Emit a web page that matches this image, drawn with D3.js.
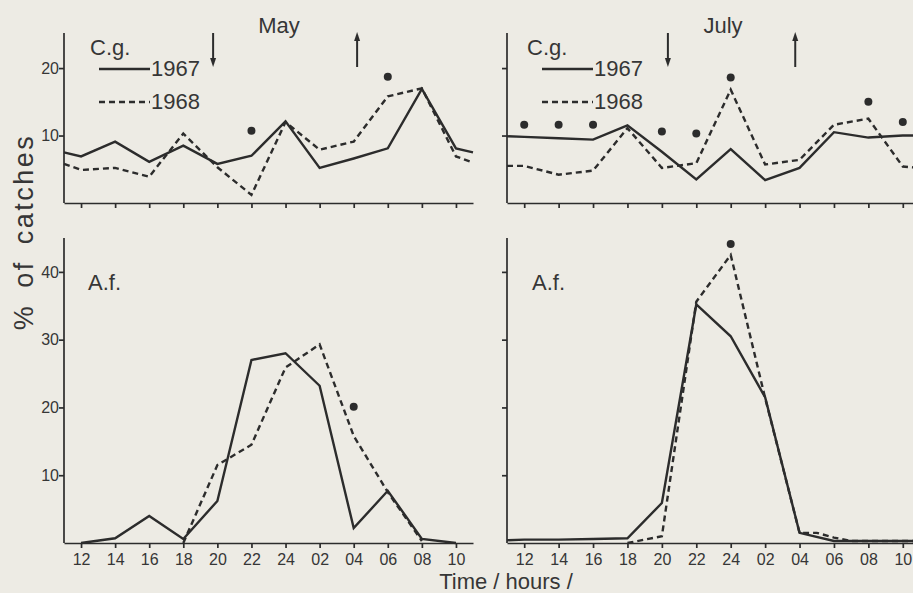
<!DOCTYPE html>
<html><head><meta charset="utf-8">
<script src="https://cdn.jsdelivr.net/npm/d3@7"></script>
<style>body{margin:0;background:#edebe4;} svg{display:block;}</style>
</head><body>
<svg id="chart" width="913" height="593"></svg>
<script>
// ---------- DATA ----------
const tickHours = [12,14,16,18,20,22,24,26,28,30,32,34];
const tickLabels = ["12","14","16","18","20","22","24","02","04","06","08","10"];
const topYTicks = [10,20];
const bottomYTicks = [10,20,30,40];

const cgHours = [11,12,14,16,18,20,22,24,26,28,30,32,34,35];
const mayCg1967 = [7.5,6.9,9.1,6.1,8.5,5.8,7.0,12.1,5.2,6.6,8.1,16.9,8.1,7.5];
const mayCg1968 = [5.8,4.9,5.2,3.9,10.3,5.3,1.2,12.0,7.9,9.1,15.8,17.0,6.9,6.0];
const mayCgDotHours = [22,30];
const mayCgDots = [10.7,18.7];

const julyCg1967 = [9.9,9.8,9.6,9.4,11.5,7.6,3.5,8.0,3.4,5.2,10.5,9.7,10.0,10.0];
const julyCg1968 = [5.5,5.5,4.2,4.8,11.1,5.2,5.9,16.8,5.7,6.4,11.6,12.5,5.4,5.2];
const julyCgDotHours = [12,14,16,20,22,24,32,34];
const julyCgDots = [11.6,11.6,11.6,10.6,10.3,18.6,15.0,12.0];

const mayAfHours1967 = [12,14,16,18,20,22,24,26,28,30,32,34];
const mayAf1967 = [0,0.7,4.0,0.6,6.2,27.0,28.0,23.2,2.2,7.7,0.6,0];
const mayAfHours1968 = [18,20,22,24,26,28,30,32];
const mayAf1968 = [0,11.5,14.5,25.9,29.3,15.8,7.5,0.3];
const mayAfDotHours = [28];
const mayAfDots = [20.1];

const julyAfHours1967 = [11,12,14,16,18,20,22,24,26,28,30,32,34,35];
const julyAf1967 = [0.4,0.5,0.5,0.6,0.7,5.9,35.2,30.5,21.5,1.5,0.3,0.3,0.3,0.3];
const julyAfHours1968 = [18,20,22,24,26,28,29,30,31,32,34,35];
const julyAf1968 = [0,1.0,35.6,42.5,21.4,1.5,1.5,0.8,0.3,0.3,0.3,0.3];
const julyAfDotHours = [24];
const julyAfDots = [44.1];

const mayArrows = [{h:19.75, dir:"down"},{h:28.2, dir:"up"}];
const julyArrows = [{h:20.35, dir:"down"},{h:27.75, dir:"up"}];

// ---------- DRAW ----------
const ink = "#2c2c2c";
const txt = "#363636";
const svg = d3.select("#chart");
const FONT = "'Liberation Sans', Arial, sans-serif";

const xLeft = d3.scaleLinear().domain([11,35]).range([64,473]);
const xRight = d3.scaleLinear().domain([11,35]).range([507,920]);
const yTop = d3.scaleLinear().domain([0,25.2]).range([203,33]);
const yBot = d3.scaleLinear().domain([0,45]).range([543,238]);

function zip(h, v){ return h.map((d,i)=>({h:d, v:v[i]})); }

function panel(o){
  const g = svg.append("g");
  const x = o.x, y = o.y;
  const yAx = d3.axisLeft(y).tickValues(o.yTicks).tickSize(5).tickSizeOuter(0)
     .tickFormat(o.yLabels ? d3.format("d") : "");
  const ga = g.append("g").attr("transform",`translate(${x.range()[0]},0)`).call(yAx);
  ga.select(".domain").attr("d",`M0,${y.range()[0]}V${y.range()[1]}`);
  const xAx = d3.axisBottom(x).tickValues(tickHours).tickSize(5).tickSizeOuter(0)
     .tickFormat(o.xLabels ? (d,i)=>tickLabels[i] : "");
  const gx = g.append("g").attr("transform",`translate(0,${y.range()[0]})`).call(xAx);
  [ga,gx].forEach(a=>{
    a.selectAll("path,line").attr("stroke",ink).attr("stroke-width",1.7);
    a.selectAll("text").attr("fill",txt).attr("font-family",FONT).attr("font-size",16);
  });
  gx.selectAll("text").attr("dy","0.9em");
  ga.selectAll("text").attr("x",-5);

  const line = d3.line().x(d=>x(d.h)).y(d=>y(d.v));
  g.append("path").datum(zip(o.h67,o.v67)).attr("d",line)
    .attr("fill","none").attr("stroke",ink).attr("stroke-width",2.4);
  g.append("path").datum(zip(o.h68,o.v68)).attr("d",line)
    .attr("fill","none").attr("stroke",ink).attr("stroke-width",2.4).attr("stroke-dasharray","6,4");
  g.selectAll("circle.dot").data(zip(o.dh,o.dv)).enter().append("circle")
    .attr("cx",d=>x(d.h)).attr("cy",d=>y(d.v)).attr("r",4).attr("fill",ink);

  g.append("text").attr("x",o.spX).attr("y",o.spY).text(o.species)
    .attr("font-family",FONT).attr("font-size",22).attr("fill",txt);

  if(o.legend){
    const lx = x.range()[0]+35;
    [["1967",null,69],["1968","6,4",102]].forEach(([lab,dash,ly])=>{
      g.append("line").attr("x1",lx).attr("x2",lx+51).attr("y1",ly).attr("y2",ly)
        .attr("stroke",ink).attr("stroke-width",2.4).attr("stroke-dasharray",dash);
      g.append("text").attr("x",lx+52).attr("y",ly+7).text(lab)
        .attr("font-family",FONT).attr("font-size",22).attr("fill",txt);
    });
  }
  if(o.arrows){
    o.arrows.forEach(a=>{
      const ax = x(a.h);
      const y1 = a.dir==="down"?33:67, y2 = a.dir==="down"?67:32;
      const s = a.dir==="down"?1:-1;
      g.append("line").attr("x1",ax).attr("x2",ax).attr("y1",y1).attr("y2",y2-s*6)
        .attr("stroke",ink).attr("stroke-width",2);
      g.append("path").attr("d",`M${ax-3},${y2-s*9}L${ax+3},${y2-s*9}L${ax},${y2}Z`).attr("fill",ink);
    });
    g.append("text").attr("x",o.monthX).attr("y",33).text(o.month)
      .attr("font-family",FONT).attr("font-size",22).attr("fill",txt).attr("text-anchor","middle");
  }
}

panel({x:xLeft,y:yTop,yTicks:topYTicks,yLabels:true,xLabels:false,
  h67:cgHours,v67:mayCg1967,h68:cgHours,v68:mayCg1968,dh:mayCgDotHours,dv:mayCgDots,
  species:"C.g.",spX:90,spY:55,legend:true,arrows:mayArrows,month:"May",monthX:279});
panel({x:xRight,y:yTop,yTicks:topYTicks,yLabels:false,xLabels:false,
  h67:cgHours,v67:julyCg1967,h68:cgHours,v68:julyCg1968,dh:julyCgDotHours,dv:julyCgDots,
  species:"C.g.",spX:527,spY:55,legend:true,arrows:julyArrows,month:"July",monthX:723});
panel({x:xLeft,y:yBot,yTicks:bottomYTicks,yLabels:true,xLabels:true,
  h67:mayAfHours1967,v67:mayAf1967,h68:mayAfHours1968,v68:mayAf1968,dh:mayAfDotHours,dv:mayAfDots,
  species:"A.f.",spX:88,spY:290});
panel({x:xRight,y:yBot,yTicks:bottomYTicks,yLabels:false,xLabels:true,
  h67:julyAfHours1967,v67:julyAf1967,h68:julyAfHours1968,v68:julyAf1968,dh:julyAfDotHours,dv:julyAfDots,
  species:"A.f.",spX:532,spY:290});

svg.append("text").attr("transform","translate(33,232) rotate(-90)")
  .attr("text-anchor","middle").attr("font-family",FONT).attr("font-size",27)
  .attr("letter-spacing",2.5).attr("word-spacing",6)
  .attr("fill",txt).text("% of catches");
svg.append("text").attr("x",506).attr("y",589).attr("text-anchor","middle")
  .attr("font-family",FONT).attr("font-size",22).attr("fill",txt).text("Time / hours /");
</script>
</body></html>
